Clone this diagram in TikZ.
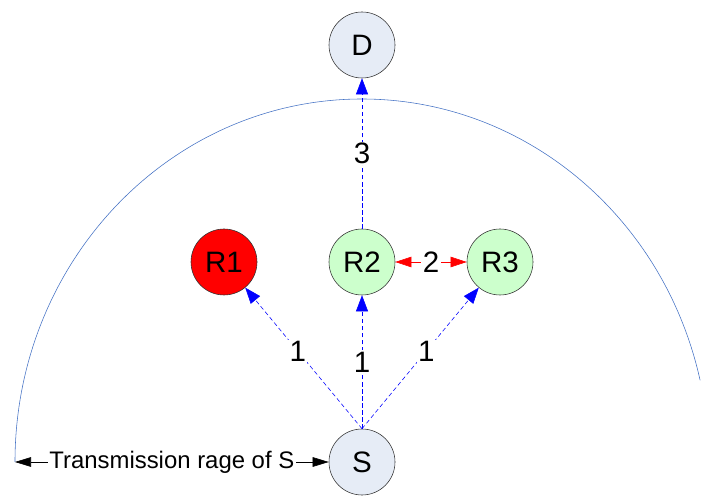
\documentclass[tikz,border=0pt]{standalone}
\usepackage{fontspec}
\setmainfont{Liberation Sans}
\usepackage{xcolor}
\usetikzlibrary{arrows.meta,positioning}
\definecolor{ndgray}{RGB}{230,236,246}
\definecolor{ndgreen}{RGB}{204,255,204}
\definecolor{rngblue}{RGB}{68,114,196}

\begin{document}
\begin{tikzpicture}[x=0.025cm, y=0.025cm, font=\fontsize{21}{24}\selectfont,
  nd/.style={circle, draw=black!80, thin, minimum size=1.65cm, inner sep=0pt},
  src/.style={nd, fill=ndgray},
  rly/.style={nd, fill=ndgreen},
  bad/.style={nd, fill=red},
  lab/.style={fill=white, text=black, inner sep=1pt},
  hop/.style={blue, densely dashed, thin, -{Triangle[length=4mm, width=3mm]}},
  pair/.style={red, thin, {Triangle[length=4mm, width=2.6mm]}-{Triangle[length=4mm, width=2.6mm]}},
  rng/.style={black, thin, {Triangle[length=4mm, width=2.4mm]}-{Triangle[length=4mm, width=2.4mm]}}]
\useasboundingbox (0,0) rectangle (702,499);
% --- transmission range of S ---
\coordinate (rl) at (15,37);
\draw[rngblue, thin] (rl) arc[start angle=180, end angle=13, x radius=347, y radius=363];
% --- nodes ---
\node[src] (S) at (362,37) {S};
\node[src] (D) at (362,454) {D};
\node[bad] (R1) at (224,237) {R1};
\node[rly] (R2) at (362,237) {R2};
\node[rly] (R3) at (500,237) {R3};
% --- hops ---
\draw[hop] (S.north) -- node[lab, pos=0.55] {1} (R1);
\draw[hop] (S.north) -- node[lab] {1} (R2);
\draw[hop] (S.north) -- node[lab, pos=0.55] {1} (R3);
\draw[hop] (R2) -- node[lab] {3} (D);
\draw[pair] (R2) -- node[lab] {2} (R3);
\draw[rng] (rl) -- node[lab, font=\fontsize{17}{20}\selectfont] {Transmission rage of S} (S.west);
\end{tikzpicture}
\end{document}
